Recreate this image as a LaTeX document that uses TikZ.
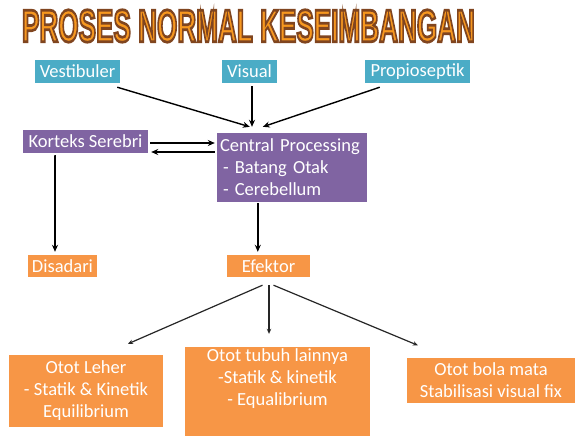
\documentclass[tikz,border=0pt]{standalone}
\usepackage{fontspec}
\setmainfont{Carlito}
\newfontfamily\headfont{Liberation Sans}
\usetikzlibrary{arrows.meta,calc}
\definecolor{tealbox}{HTML}{4BACC6}
\definecolor{purplebox}{HTML}{8064A2}
\definecolor{orangebox}{HTML}{F79646}
\definecolor{titlefill}{HTML}{F7981F}
% heading: orange glyphs stroked with a brown outline (text render mode 2)
\newcommand{\headline}{\resizebox{453pt}{32pt}{\color{titlefill}%
  \special{pdf:literal direct 0.50 0.27 0.12 RG 2 Tr 0.6 w}%
  \headfont\bfseries PROSES NORMAL KESEIMBANGAN%
  \special{pdf:literal direct 0 Tr}}}
\tikzset{
  box/.style={inner sep=0pt, text=white, font=\fontsize{18.5}{22}\selectfont, align=center},
  tealnode/.style={box, fill=tealbox},
  purplenode/.style={box, fill=purplebox},
  orangenode/.style={box, fill=orangebox},
  arr/.style={draw=black, line width=1.4pt, -{Stealth[length=7pt,width=6pt]}},
  thinarr/.style={draw=black!85, line width=1.2pt, -{Stealth[length=5pt,width=4.5pt]}}
}
\begin{document}
\begin{tikzpicture}[x=1pt,y=-1pt]
\useasboundingbox[fill=white] (0,0) rectangle (580,439);

\node[inner sep=0pt] (title) at (248.5,26) {\headline};

% sensory inputs
\node[tealnode, minimum width=85pt, minimum height=23pt] (vest) at (77.5,71.5) {Vestibuler};
\node[tealnode, minimum width=55pt, minimum height=23pt] (vis) at (249.5,71.5) {Visual};
\node[tealnode, minimum width=105pt, minimum height=23pt] (prop) at (417.5,71.5) {Propioseptik};

% processing
\node[purplenode, minimum width=125pt, minimum height=23pt] (kort) at (85.5,141.5) {Korteks Serebri};
\node[purplenode, minimum width=150pt, minimum height=69pt, align=left, text width=144pt] (cp) at (292,167.5)
  {Central Processing\\\hspace{3pt}- Batang Otak\\\hspace{3pt}- Cerebellum};

% outputs
\node[orangenode, minimum width=69pt, minimum height=22pt] (dis) at (62.5,266) {Disadari};
\node[orangenode, minimum width=83pt, minimum height=22pt] (ef) at (268.5,266) {Efektor};

\node[orangenode, minimum width=154pt, minimum height=72pt] (leher) at (86,391)
  {Otot Leher\\- Statik \& Kinetik\\Equilibrium};
\node[orangenode, minimum width=185pt, minimum height=89pt] (tubuh) at (277.5,391.5) {};
\node[box] (tubuhtxt) at (277.5,378.5) {Otot tubuh lainnya\\-Statik \& kinetik\\- Equalibrium};
\node[orangenode, minimum width=168pt, minimum height=45pt] (bola) at (491,380)
  {Otot bola mata\\Stabilisasi visual fix};

% connectors
\draw[arr] ($(vest.south east)+(-3,4)$) -- ($(cp.north west)+(33,-6)$);
\draw[arr] ($(vis.south)+(2.5,3)$) -- ($(vis.south |- cp.north)+(2.5,-6)$);
\draw[arr] ($(prop.south west)+(15,4)$) -- ($(cp.north west)+(46,-6)$);
\draw[arr] ($(kort.east)+(2,1.5)$) -- ($(kort.east -| cp.west)+(-2,1.5)$);
\draw[arr] ($(kort.east -| cp.west)+(-2,10.5)$) -- ($(kort.east)+(3,10.5)$);
\draw[arr] ($(kort.south west)+(32,2)$) -- ($(kort.south west -| dis.north)+(-7.5,2)$) -- ($(dis.north)+(-7.5,-3)$);
\draw[arr] ($(cp.south west)+(41,1)$) -- ($(cp.south west |- ef.north)+(41,-3)$);
\draw[thinarr] ($(ef.south)+(-6,8)$) -- ($(leher.north)+(42,-11)$);
\draw[thinarr] ($(ef.south)+(0.5,8)$) -- ($(ef.south |- tubuh.north)+(0.5,-13)$);
\draw[thinarr] ($(ef.south)+(5,8)$) -- ($(bola.north west)+(11,-12)$);
\end{tikzpicture}
\end{document}
